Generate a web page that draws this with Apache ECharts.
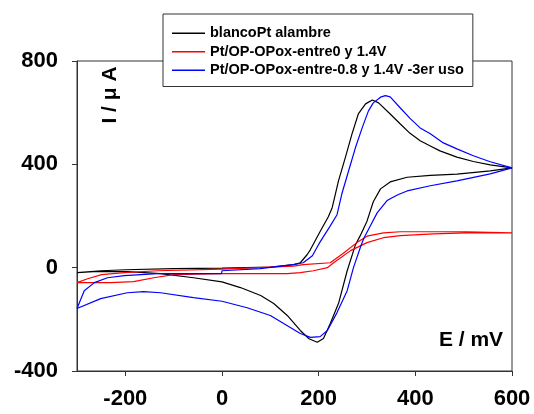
<!DOCTYPE html>
<html>
<head>
<meta charset="utf-8">
<script src="https://cdn.jsdelivr.net/npm/echarts@6/dist/echarts.min.js"></script>
<style>
html,body{margin:0;padding:0;background:#fff;}
#chart{width:534px;height:414px;}
</style>
</head>
<body>
<div id="chart"></div>
<script>
// potencial (mV), corriente (uA) -- barrido de ida y vuelta
var blanco = [
  [-300,-19],[-250,-12],[-200,-8],[-100,-4],[0,-2],[100,2],[148,12],[162,19],[176,50],[183,70],
  [203,140],[220,197],[228,232],[241,336],[255,425],[269,518],[282,595],[297,634],[311,649],[324,638],
  [348,595],[369,556],[389,520],[410,491],[431,471],[451,452],[486,428],[520,411],[555,398],[600,386],
  [555,375],[486,362],[431,357],[383,350],[348,332],[328,305],[313,255],[300,180],[286,124],[276,88],
  [259,-12],[241,-139],[224,-216],[210,-274],[197,-289],[180,-275],[162,-243],[135,-185],[107,-139],
  [80,-108],[38,-77],[0,-55],[-59,-39],[-127,-23],[-196,-15],[-266,-15],[-300,-19]
];
var entre0 = [
  [-300,-58],[-278,-43],[-249,-27],[-202,-19],[-133,-12],[0,-6],[148,6],[168,12],[224,19],[251,56],
  [279,97],[300,122],[334,135],[369,139],[437,139],[507,139],[600,135],
  [507,135],[437,131],[369,124],[334,116],[300,97],[266,66],[231,19],[218,0],[189,-12],[162,-19],
  [135,-23],[79,-23],[-3,-23],[-100,-27],[-141,-39],[-183,-54],[-231,-58],[-300,-58]
];
var tercerUso = [
  [-300,-158],[-285,-89],[-264,-58],[-237,-39],[-202,-31],[-133,-23],[-1,-23],[0,-12],[79,-4],[148,12],
  [168,19],[187,46],[197,80],[203,100],[224,162],[238,205],[248,286],[262,375],[276,464],[290,541],
  [303,607],[313,638],[328,660],[338,666],[348,661],[369,618],[390,576],[410,541],[431,518],[458,483],
  [486,460],[520,433],[555,410],[600,386],
  [555,363],[486,336],[431,317],[383,297],[365,283],[348,267],[341,259],[321,212],[307,162],[293,112],
  [286,77],[272,0],[259,-89],[238,-174],[218,-243],[203,-267],[183,-270],[162,-255],[100,-185],
  [52,-155],[0,-130],[-59,-116],[-127,-97],[-162,-93],[-196,-97],[-251,-120],[-300,-158]
];
var nombres = ['blancoPt alambre', 'Pt/OP-OPox-entre0 y 1.4V', 'Pt/OP-OPox-entre-0.8 y 1.4V -3er uso'];
var xTicks = [-200, 0, 200, 400, 600];
var yTicks = [-400, 0, 400, 800];

var myChart = echarts.init(document.getElementById('chart'));
var fuente = 'Liberation Sans, Arial, sans-serif';

function serie(nombre, datos, color) {
  return {
    name: nombre,
    type: 'line',
    data: datos,
    symbol: 'none',
    smooth: false,
    lineStyle: {color: color, width: 1.2},
    itemStyle: {color: color},
    z: 3
  };
}

option = {
  animation: false,
  backgroundColor: '#fff',
  grid: {
    left: 77, right: 22, top: 61, bottom: 43,
    show: true, borderColor: '#333', borderWidth: 1
  },
  legend: {
    orient: 'vertical',
    left: 163,
    top: 14,
    data: nombres,
    icon: 'rect',
    itemWidth: 33,
    itemHeight: 1.5,
    itemGap: 2,
    itemTextGap: 9,
    padding: [11, 9, 8, 9],
    borderColor: '#333',
    borderWidth: 1,
    borderRadius: 0,
    backgroundColor: '#fff',
    textStyle: {fontFamily: fuente, fontWeight: 'bold', fontSize: 14.5, color: '#000', lineHeight: 16.5},
    z: 10
  },
  xAxis: {
    type: 'value',
    min: -300,
    max: 600,
    splitLine: {show: false},
    axisLine: {onZero: false, lineStyle: {color: '#333'}},
    axisTick: {customValues: xTicks, length: 5, lineStyle: {color: '#333'}},
    axisLabel: {customValues: xTicks, margin: 17, fontFamily: fuente, fontWeight: 'bold', fontSize: 22, color: '#000'}
  },
  yAxis: {
    type: 'value',
    min: -400,
    max: 800,
    interval: 400,
    splitLine: {show: false},
    axisLine: {show: true, onZero: false, lineStyle: {color: '#333'}},
    axisTick: {show: true, length: 5, lineStyle: {color: '#333'}},
    axisLabel: {customValues: yTicks, margin: 19, fontFamily: fuente, fontWeight: 'bold', fontSize: 22, color: '#000'}
  },
  graphic: [
    {
      type: 'text',
      x: 110, y: 95,
      rotation: Math.PI / 2,
      style: {text: 'I / μ A', font: 'bold 21px ' + fuente, fill: '#000', align: 'center', verticalAlign: 'middle'},
      z: 5
    },
    {
      type: 'text',
      x: 471, y: 340,
      style: {text: 'E / mV', font: 'bold 21px ' + fuente, fill: '#000', align: 'center', verticalAlign: 'middle'},
      z: 5
    }
  ],
  series: [
    serie(nombres[0], blanco, '#000000'),
    serie(nombres[1], entre0, '#ff0000'),
    serie(nombres[2], tercerUso, '#0000ff')
  ]
};
myChart.setOption(option);
</script>
</body>
</html>
